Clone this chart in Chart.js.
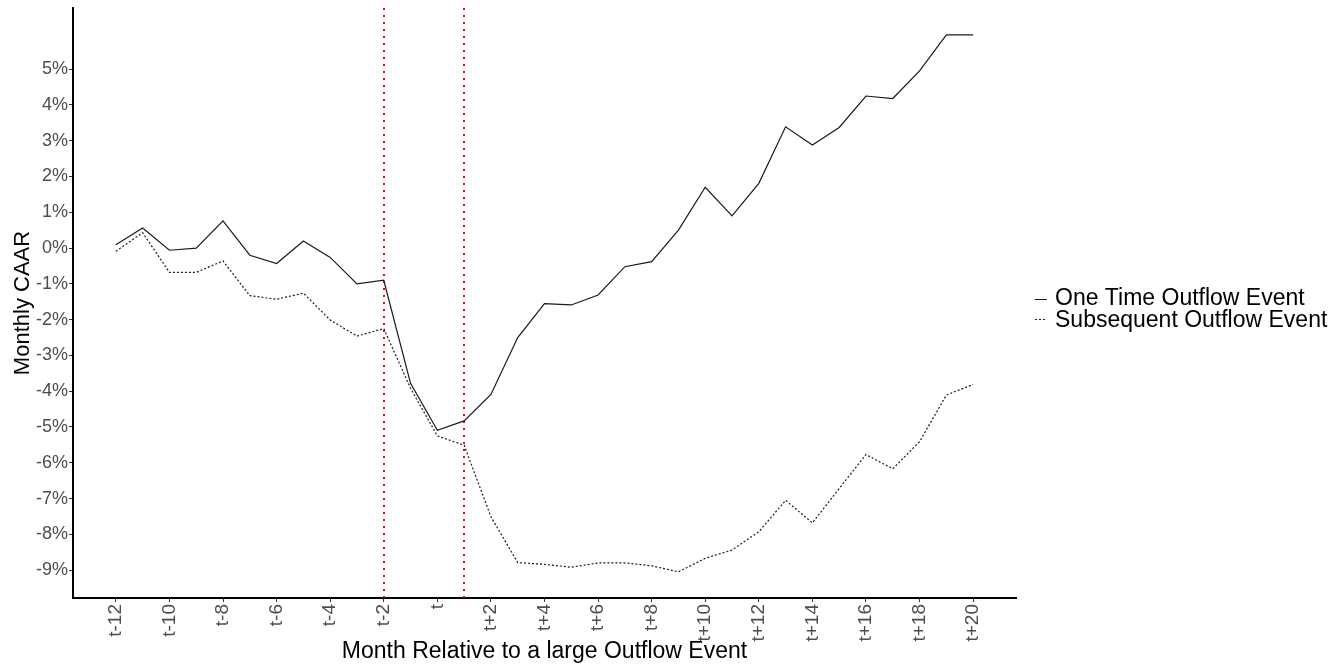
<!DOCTYPE html>
<html>
<head>
<meta charset="utf-8">
<script src="https://cdn.jsdelivr.net/npm/chart.js@4/dist/chart.umd.min.js"></script>
<style>
  html, body { margin: 0; padding: 0; background: #fff; }
  #wrap { width: 1341px; height: 665px; position: relative; }
</style>
</head>
<body>
<div id="wrap"><canvas id="myChart"></canvas></div>
<script>
// months relative to the event (t-12 .. t+20)
const months = [-12, -11, -10, -9, -8, -7, -6, -5, -4, -3, -2, -1, 0, 1, 2, 3, 4, 5, 6, 7, 8, 9, 10, 11, 12, 13, 14, 15, 16, 17, 18, 19, 20];
const oneTime = [0.09, 0.56, -0.06, 0.0, 0.76, -0.20, -0.43, 0.20, -0.26, -1.00, -0.90, -3.78, -5.09, -4.83, -4.09, -2.50, -1.55, -1.59, -1.31, -0.52, -0.38, 0.50, 1.70, 0.90, 1.81, 3.39, 2.88, 3.37, 4.25, 4.18, 4.95, 5.96, 5.96];
const subsequent = [-0.09, 0.43, -0.68, -0.68, -0.36, -1.33, -1.43, -1.26, -2.01, -2.46, -2.25, -3.92, -5.25, -5.51, -7.51, -8.79, -8.84, -8.92, -8.80, -8.80, -8.88, -9.05, -8.67, -8.44, -7.93, -7.05, -7.68, -6.72, -5.77, -6.17, -5.41, -4.11, -3.81];
const xTicks = [-12, -10, -8, -6, -4, -2, 0, 2, 4, 6, 8, 10, 12, 14, 16, 18, 20];
const yTicks = [-9, -8, -7, -6, -5, -4, -3, -2, -1, 0, 1, 2, 3, 4, 5];
const eventLines = [-2, 1];
const seriesNames = ['One Time Outflow Event', 'Subsequent Outflow Event'];

const FONT = "'Liberation Sans', Arial, sans-serif";

function monthLabel(v) {
    if (v === 0) return 't';
    return v > 0 ? 't+' + v : 't' + v;
}

const redLines = {
    id: 'redLines',
    beforeDatasetsDraw(chart) {
        const ctx = chart.ctx, xs = chart.scales.x, area = chart.chartArea;
        ctx.save();
        ctx.strokeStyle = '#ff0000';
        ctx.lineWidth = 2;
        ctx.setLineDash([2, 5]);
        for (const v of eventLines) {
            const px = Math.round(xs.getPixelForValue(v));
            ctx.beginPath();
            ctx.moveTo(px, area.top);
            ctx.lineTo(px, area.bottom);
            ctx.stroke();
        }
        ctx.restore();
    }
};

const sideLegend = {
    id: 'sideLegend',
    afterDraw(chart) {
        const ctx = chart.ctx;
        const x0 = 1035, ys = [304.5, 326.5], ls = [299, 319];
        ctx.save();
        ctx.font = '23px ' + FONT;
        ctx.textBaseline = 'alphabetic';
        ctx.fillStyle = '#000';
        chart.data.datasets.forEach((ds, i) => {
            ctx.strokeStyle = ds.borderColor;
            ctx.lineWidth = 1;
            ctx.setLineDash(ds.borderDash || []);
            ctx.beginPath();
            ctx.moveTo(x0, ls[i] + 0.5);
            ctx.lineTo(x0 + 12, ls[i] + 0.5);
            ctx.stroke();
            ctx.fillText(seriesNames[i], x0 + 20, ys[i]);
        });
        ctx.restore();
    }
};

const ctx = document.getElementById('myChart').getContext('2d');
const myChart = new Chart(ctx, {
    type: 'line',
    data: {
        datasets: [{
            label: seriesNames[0],
            data: months.map((m, i) => ({ x: m, y: oneTime[i] })),
            borderColor: '#1a1a1a',
            borderWidth: 1.2,
            pointRadius: 0,
            tension: 0
        }, {
            label: seriesNames[1],
            data: months.map((m, i) => ({ x: m, y: subsequent[i] })),
            borderColor: '#1a1a1a',
            borderWidth: 1.2,
            borderDash: [2, 2],
            pointRadius: 0,
            tension: 0
        }]
    },
    options: {
        responsive: true,
        maintainAspectRatio: false,
        animation: false,
        layout: { padding: { top: 8, right: 325, left: 0, bottom: 0 } },
        plugins: {
            legend: { display: false },
            tooltip: { enabled: false }
        },
        scales: {
            x: {
                type: 'linear',
                min: -13.6,
                max: 21.6,
                afterBuildTicks: (s) => { s.ticks = xTicks.map(v => ({ value: v })); },
                afterFit: (s) => { s.height = 67; },
                grid: { drawOnChartArea: false, drawTicks: true, tickLength: 4, color: '#333' },
                border: { display: true, color: '#000', width: 2 },
                ticks: {
                    autoSkip: false,
                    minRotation: 90,
                    maxRotation: 90,
                    padding: 2,
                    color: '#4d4d4d',
                    font: { family: FONT, size: 19 },
                    callback: (v) => monthLabel(v)
                },
                title: {
                    display: true,
                    text: 'Month Relative to a large Outflow Event',
                    color: '#000',
                    font: { family: FONT, size: 23 },
                    padding: { top: 0, bottom: 0 }
                }
            },
            y: {
                min: -9.78,
                max: 6.71,
                afterBuildTicks: (s) => { s.ticks = yTicks.map(v => ({ value: v })); },
                afterFit: (s) => { s.width = 73; s.paddingTop = 0; s.paddingBottom = 0; },
                grid: { drawOnChartArea: false, drawTicks: true, tickLength: 4, color: '#333' },
                border: { display: true, color: '#000', width: 2 },
                ticks: {
                    padding: 1,
                    color: '#4d4d4d',
                    font: { family: FONT, size: 18 },
                    callback: (v) => v + '%'
                },
                title: {
                    display: true,
                    text: 'Monthly CAAR',
                    color: '#000',
                    font: { family: FONT, size: 22 },
                    padding: { top: 10, bottom: 0 }
                }
            }
        }
    },
    plugins: [redLines, sideLegend]
});
</script>
</body>
</html>
